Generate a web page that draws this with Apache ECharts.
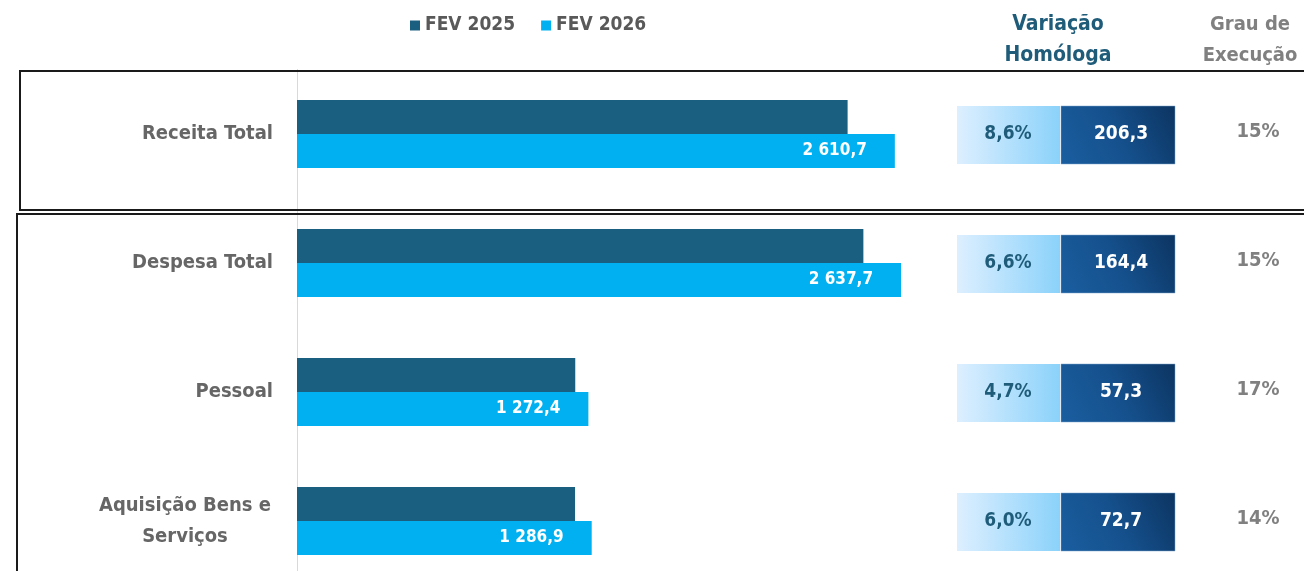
<!DOCTYPE html>
<html style="height: 100%">
<head>
<meta charset="utf-8">
<script src="https://cdn.jsdelivr.net/npm/echarts@6/dist/echarts.min.js"></script>
</head>
<body style="height: 100%; margin: 0; background: #fff">
<div id="main" style="width: 1304px; height: 571px"></div>
<script type="text/javascript">
// dados
var categorias = ['Receita Total', 'Despesa Total', 'Pessoal', 'Aquisição Bens e\nServiços'];
var fev2025 = [2404.4, 2473.3, 1215.1, 1214.2];
var fev2026 = [2610.7, 2637.7, 1272.4, 1286.9];
var variacaoPct = [8.6, 6.6, 4.7, 6.0];
var variacaoAbs = [206.3, 164.4, 57.3, 72.7];
var grauExecucao = [15, 15, 17, 14];

var fontN = "'Liberation Sans Narrow', 'DejaVu Sans Condensed', 'Liberation Sans', sans-serif";

function fmt(v) {
    var p = v.toFixed(1).split('.');
    return p[0].replace(/\B(?=(\d{3})+(?!\d))/g, ' ') + ',' + p[1];
}

var dom = document.getElementById('main');
var myChart = echarts.init(dom);

var pctGrad = new echarts.graphic.LinearGradient(0, 0, 1, 0, [
    {offset: 0, color: '#ddefff'}, {offset: 1, color: '#8bd2fa'}
]);
var absGrad = new echarts.graphic.LinearGradient(0, 1, 1, 0, [
    {offset: 0, color: '#1a5ea0'}, {offset: 0.5, color: '#15508c'}, {offset: 1, color: '#0c3461'}
]);

var option = {
    animation: false,
    color: ['#1a5e80', '#00b0f0'],
    legend: {
        data: ['FEV 2025', 'FEV 2026'],
        left: 405,
        top: 11,
        icon: 'rect',
        itemWidth: 10,
        itemHeight: 10,
        itemGap: 26,
        textStyle: {color: '#595959', fontSize: 19, fontWeight: 'bold', fontFamily: fontN}
    },
    grid: [
        {left: 297, width: 687, top: 69.5, height: 516, outerBoundsMode: 'none'},
        {left: 955, width: 349, top: 69.5, height: 516, outerBoundsMode: 'none'}
    ],
    xAxis: [
        {type: 'value', gridIndex: 0, min: 0, max: 3000, show: false, splitLine: {show: false}},
        {type: 'value', gridIndex: 1, min: 0, max: 1, show: false}
    ],
    yAxis: [
        {
            type: 'category', gridIndex: 0, inverse: true, data: categorias,
            axisTick: {show: false},
            axisLine: {show: true, lineStyle: {color: '#d9d9d9', width: 1}},
            axisLabel: {
                margin: 24,
                color: '#666666',
                fontSize: 20,
                fontWeight: 'bold',
                fontFamily: fontN,
                formatter: function (v) {
                    if (v.indexOf('\n') < 0) return v;
                    return v.split('\n').map(function (s) { return '{m|' + s + '}'; }).join('\n');
                },
                rich: {
                    m: {width: 176, align: 'center', color: '#666666', fontSize: 20, fontWeight: 'bold', fontFamily: fontN, lineHeight: 31}
                }
            }
        },
        {type: 'category', gridIndex: 1, inverse: true, data: categorias, show: false}
    ],
    series: [
        {
            name: 'FEV 2025', type: 'bar', xAxisIndex: 0, yAxisIndex: 0,
            barWidth: 34, barGap: '0%',
            data: fev2025
        },
        {
            name: 'FEV 2026', type: 'bar', xAxisIndex: 0, yAxisIndex: 0,
            barWidth: 34, barGap: '0%',
            data: fev2026,
            label: {
                show: true, position: 'insideRight', distance: 28,
                color: '#ffffff', fontSize: 17, fontWeight: 'bold', fontFamily: fontN,
                formatter: function (p) { return fmt(p.value); }
            }
        },
        {
            type: 'custom', xAxisIndex: 1, yAxisIndex: 1,
            data: categorias.map(function (c, i) { return [0, i, variacaoPct[i], variacaoAbs[i], grauExecucao[i]]; }),
            encode: {x: 0, y: 1},
            renderItem: function (params, api) {
                var cy = api.coord([0, api.value(1)])[1];
                var x0 = params.coordSys.x;
                var h = 58;
                var top = cy - h / 2 + 1;
                return {
                    type: 'group',
                    children: [
                        {type: 'rect', shape: {x: x0 + 2, y: top, width: 103, height: h}, style: {fill: pctGrad}},
                        {type: 'rect', shape: {x: x0 + 106, y: top, width: 114, height: h}, style: {fill: absGrad, stroke: '#7fa6cc', lineWidth: 0.5}},
                        {type: 'text', x: x0 + 53, y: cy, style: {
                            text: api.value(2).toFixed(1).replace('.', ',') + '%', align: 'center', verticalAlign: 'middle',
                            fill: '#1f5c7a', font: 'bold 19px ' + fontN}},
                        {type: 'text', x: x0 + 166, y: cy, style: {
                            text: fmt(api.value(3)), align: 'center', verticalAlign: 'middle',
                            fill: '#ffffff', font: 'bold 19px ' + fontN}},
                        {type: 'text', x: x0 + 303, y: cy - 2, style: {
                            text: api.value(4) + '%', align: 'center', verticalAlign: 'middle',
                            fill: '#808080', font: 'bold 20px ' + fontN}}
                    ]
                };
            }
        }
    ],
    graphic: [
        {type: 'rect', z: 10, shape: {x: 20, y: 71, width: 1300, height: 139}, style: {fill: 'none', stroke: '#1a1a1a', lineWidth: 2}},
        {type: 'rect', z: 10, shape: {x: 17, y: 214, width: 1300, height: 400}, style: {fill: 'none', stroke: '#1a1a1a', lineWidth: 2}},
        {type: 'text', x: 1058, y: 9, style: {text: 'Variação\nHomóloga', align: 'center', fill: '#1f5c7a', font: 'bold 21px ' + fontN, lineHeight: 31}},
        {type: 'text', x: 1250, y: 9, style: {text: 'Grau de\nExecução', align: 'center', fill: '#808080', font: 'bold 20px ' + fontN, lineHeight: 31}}
    ]
};

myChart.setOption(option);
</script>
</body>
</html>
